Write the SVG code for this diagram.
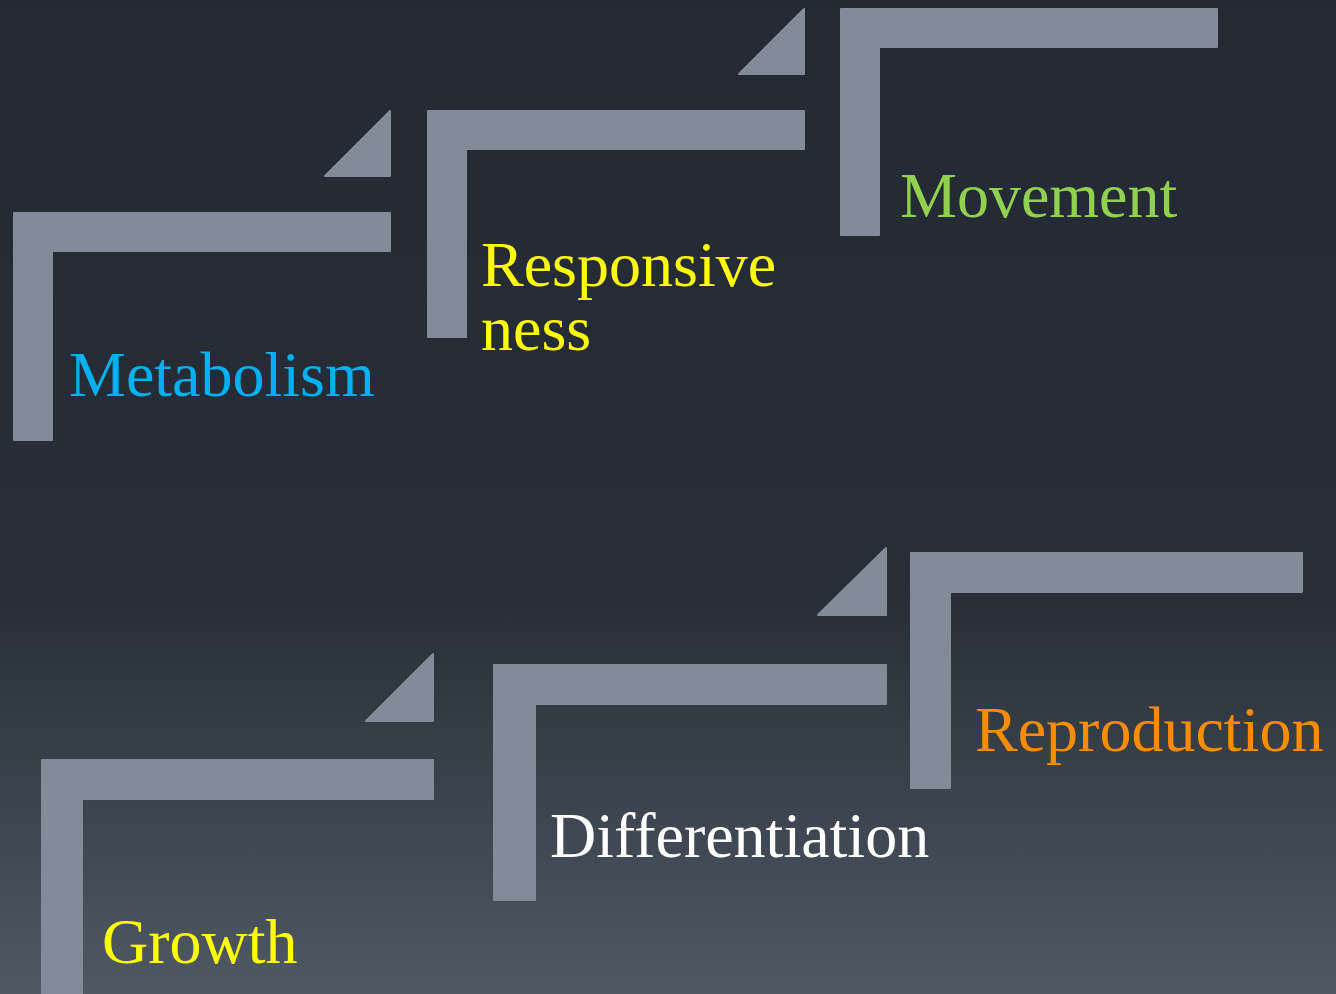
<svg xmlns="http://www.w3.org/2000/svg" width="1336" height="994" viewBox="0 0 1336 994">
  <defs>
    <linearGradient id="bg" x1="0" y1="0" x2="0" y2="1">
      <stop offset="0" stop-color="#232a33"/>
      <stop offset="0.6" stop-color="#272e37"/>
      <stop offset="1" stop-color="#4f5964"/>
    </linearGradient>
  </defs>
  <style>
    .step { fill: #838b99; stroke: #838b99; stroke-width: 2; stroke-linejoin: round; }
    .label { font-family: "Liberation Serif", "Times New Roman", serif; font-size: 64px; }
  </style>
  <rect x="0" y="0" width="1336" height="994" fill="url(#bg)"/>

  <g id="metabolism">
    <path class="step" d="M14,213 H390 V251 H52 V440 H14 Z"/>
    <path class="step" d="M390,111 V176 H325 Z"/>
    <text class="label" x="69" y="396" fill="#00b0f0">Metabolism</text>
  </g>

  <g id="responsiveness">
    <path class="step" d="M428,111 H804 V149 H466 V337 H428 Z"/>
    <path class="step" d="M804,9 V74 H739 Z"/>
    <text class="label" x="481" y="286" fill="#ffff00">Responsive<tspan x="481" y="350">ness</tspan></text>
  </g>

  <g id="movement">
    <path class="step" d="M841,9 H1217 V47 H879 V235 H841 Z"/>
    <text class="label" x="900" y="217" fill="#92d050">Movement</text>
  </g>

  <g id="growth">
    <path class="step" d="M42,760 H433 V799 H82 V1000 H42 Z"/>
    <path class="step" d="M433,654 V721 H366 Z"/>
    <text class="label" x="102" y="963" fill="#ffff00">Growth</text>
  </g>

  <g id="differentiation">
    <path class="step" d="M494,665 H886 V704 H535 V900 H494 Z"/>
    <path class="step" d="M886,548 V615 H818 Z"/>
    <text class="label" x="550" y="857" fill="#ffffff">Differentiation</text>
  </g>

  <g id="reproduction">
    <path class="step" d="M911,553 H1302 V592 H950 V788 H911 Z"/>
    <text class="label" x="975" y="751" fill="#ff8c00">Reproduction</text>
  </g>

  <g id="connectors"/>
</svg>
